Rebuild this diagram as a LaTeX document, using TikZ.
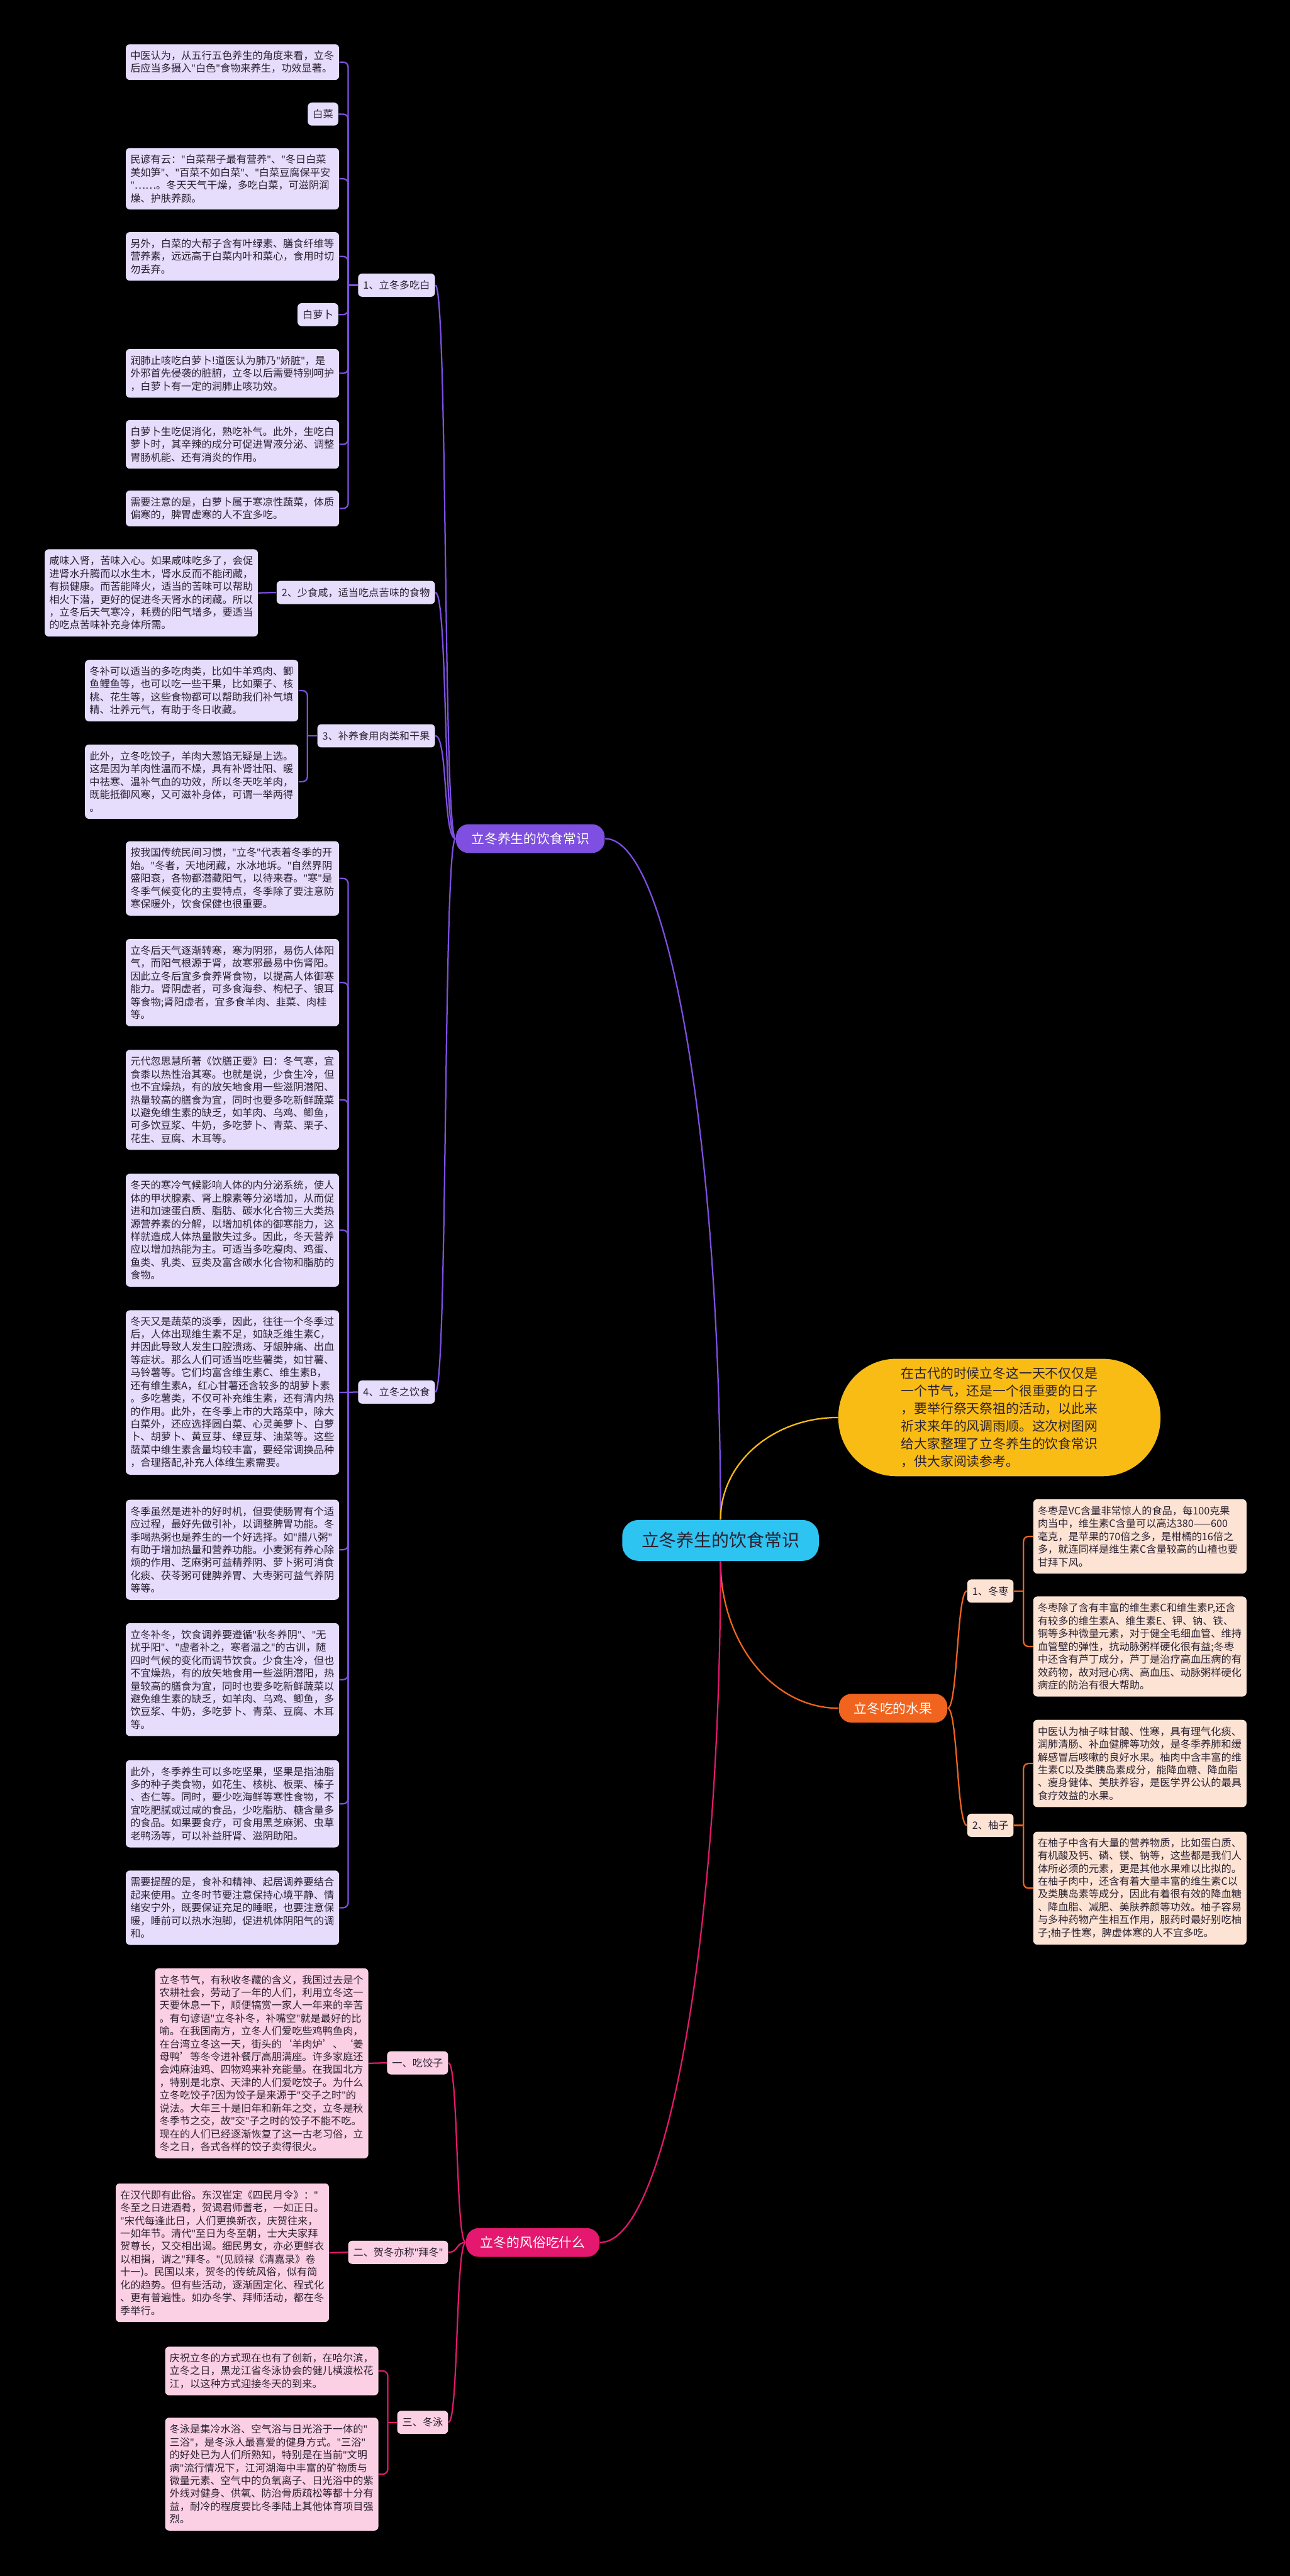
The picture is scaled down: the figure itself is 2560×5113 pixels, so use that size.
\documentclass[tikz,border=0pt]{standalone}
\usepackage{fontspec}
\setmainfont{Noto Sans CJK SC}
\newfontfamily\latinfont{Noto Sans}
\definecolor{pcol}{HTML}{7E4FE0}
\definecolor{plite}{HTML}{E6DCFB}
\definecolor{kcol}{HTML}{E3186E}
\definecolor{klite}{HTML}{FCD0E4}
\definecolor{ocol}{HTML}{F0641F}
\definecolor{olite}{HTML}{FDE3D4}
\definecolor{ycol}{HTML}{F9BC14}
\definecolor{ccol}{HTML}{2EC4F2}
\definecolor{ink}{HTML}{2A2132}
\newcommand\leaffont{\fontsize{5.75pt}{7.25pt}\selectfont}
\newcommand\branchfont{\fontsize{7.4pt}{9pt}\selectfont}
\newcommand\introfont{\fontsize{7.4pt}{9.96pt}\selectfont}
\newcommand\rootfont{\fontsize{9.9pt}{12pt}\selectfont}
\newcommand\q{{\latinfont\char34}}

\begin{document}
\begin{tikzpicture}[x=0.01cm, y=-0.01cm,
  leaf/.style={rectangle, rounded corners=0.08cm, fill=#1, text=ink, font=\leaffont, text width=4.05cm, align=left, inner xsep=0.09cm, inner ysep=0.02cm},
  nl/.style={minimum height=0.255cm*#1+0.2cm},
  tag/.style={rectangle, rounded corners=0.08cm, fill=#1, text=ink, font=\leaffont, inner xsep=0.1cm, minimum height=0.46cm},
  branch/.style={rectangle, rounded corners=0.25cm, fill=#1, text=white, font=\branchfont, minimum height=0.57cm},
  link/.style={draw=#1, line width=0.8pt}
]
  \fill[black] (0,0) rectangle (2560,5113);

  % centre and first level
  \node[rectangle, rounded corners=0.32cm, fill=ccol, text=ink, font=\rootfont, minimum width=3.9cm, minimum height=0.81cm] (root) at (1430,3057.5) {立冬养生的饮食常识};
  \node[rectangle, rounded corners=1.15cm, fill=ycol, text=ink, font=\introfont, align=left, minimum width=6.39cm, minimum height=2.33cm] (intro) at (1983.5,2813.5) {在古代的时候立冬这一天不仅仅是\\一个节气，还是一个很重要的日子\\，要举行祭天祭祖的活动，以此来\\祈求来年的风调雨顺。这次树图网\\给大家整理了立冬养生的饮食常识\\，供大家阅读参考。};
  \node[branch=pcol, minimum width=2.95cm] (diet) at (1052.5,1664.5) {立冬养生的饮食常识};
  \node[branch=ocol, minimum width=2.15cm] (fruit) at (1772.5,3390.5) {立冬吃的水果};
  \node[branch=kcol, minimum width=2.65cm] (cust) at (1057.5,4451) {立冬的风俗吃什么};

  % diet: second level
  \node[tag=plite, anchor=east] (p1) at (864,566) {1、立冬多吃白};
  \node[tag=plite, anchor=east] (p2) at (864,1176) {2、少食咸，适当吃点苦味的食物};
  \node[tag=plite, anchor=east] (p3) at (864,1460.5) {3、补养食用肉类和干果};
  \node[tag=plite, anchor=east] (p4) at (864,2763) {4、立冬之饮食};

  % 1
  \node[leaf=plite, nl=2, anchor=north west] (l1a) at (249,87) {中医认为，从五行五色养生的角度来看，立冬\\后应当多摄入\q{}白色\q{}食物来养生，功效显著。};
  \node[tag=plite, minimum height=0.455cm, anchor=north east] (l1b) at (672,203) {白菜};
  \node[leaf=plite, nl=4, anchor=north west] (l1c) at (249,293) {民谚有云：\q{}白菜帮子最有营养\q{}、\q{}冬日白菜\\美如笋\q{}、\q{}百菜不如白菜\q{}、\q{}白菜豆腐保平安\\\q{}……。冬天天气干燥，多吃白菜，可滋阴润\\燥、护肤养颜。};
  \node[leaf=plite, nl=3, anchor=north west] (l1d) at (249,460) {另外，白菜的大帮子含有叶绿素、膳食纤维等\\营养素，远远高于白菜内叶和菜心，食用时切\\勿丢弃。};
  \node[tag=plite, minimum height=0.455cm, anchor=north east] (l1e) at (672,601) {白萝卜};
  \node[leaf=plite, nl=3, anchor=north west] (l1f) at (249,692) {润肺止咳吃白萝卜!道医认为肺乃\q{}娇脏\q{}，是\\外邪首先侵袭的脏腑，立冬以后需要特别呵护\\，白萝卜有一定的润肺止咳功效。};
  \node[leaf=plite, nl=3, anchor=north west] (l1g) at (249,833) {白萝卜生吃促消化，熟吃补气。此外，生吃白\\萝卜时，其辛辣的成分可促进胃液分泌、调整\\胃肠机能、还有消炎的作用。};
  \node[leaf=plite, nl=2, anchor=north west] (l1h) at (249,973) {需要注意的是，白萝卜属于寒凉性蔬菜，体质\\偏寒的，脾胃虚寒的人不宜多吃。};

  % 2
  \node[leaf=plite, nl=6, anchor=north west] (l2a) at (88,1089.5) {咸味入肾，苦味入心。如果咸味吃多了，会促\\进肾水升腾而以水生木，肾水反而不能闭藏，\\有损健康。而苦能降火，适当的苦味可以帮助\\相火下潜，更好的促进冬天肾水的闭藏。所以\\，立冬后天气寒冷，耗费的阳气增多，要适当\\的吃点苦味补充身体所需。};

  % 3
  \node[leaf=plite, nl=4, anchor=north west] (l3a) at (168,1309) {冬补可以适当的多吃肉类，比如牛羊鸡肉、鲫\\鱼鲤鱼等，也可以吃一些干果，比如栗子、核\\桃、花生等，这些食物都可以帮助我们补气填\\精、壮养元气，有助于冬日收藏。};
  \node[leaf=plite, nl=5, anchor=north west] (l3b) at (168,1477) {此外，立冬吃饺子，羊肉大葱馅无疑是上选。\\这是因为羊肉性温而不燥，具有补肾壮阳、暖\\中祛寒、温补气血的功效，所以冬天吃羊肉，\\既能抵御风寒，又可滋补身体，可谓一举两得\\。};

  % 4
  \node[leaf=plite, nl=5, anchor=north west] (g4a) at (249,1669) {按我国传统民间习惯，\q{}立冬\q{}代表着冬季的开\\始。\q{}冬者，天地闭藏，水冰地坼。\q{}自然界阴\\盛阳衰，各物都潜藏阳气，以待来春。\q{}寒\q{}是\\冬季气候变化的主要特点，冬季除了要注意防\\寒保暖外，饮食保健也很重要。};
  \node[leaf=plite, nl=6, anchor=north west] (g4b) at (249,1863) {立冬后天气逐渐转寒，寒为阴邪，易伤人体阳\\气，而阳气根源于肾，故寒邪最易中伤肾阳。\\因此立冬后宜多食养肾食物，以提高人体御寒\\能力。肾阴虚者，可多食海参、枸杞子、银耳\\等食物;肾阳虚者，宜多食羊肉、韭菜、肉桂\\等。};
  \node[leaf=plite, nl=7, anchor=north west] (g4c) at (249,2083) {元代忽思慧所著《饮膳正要》曰：冬气寒，宜\\食黍以热性治其寒。也就是说，少食生冷，但\\也不宜燥热，有的放矢地食用一些滋阴潜阳、\\热量较高的膳食为宜，同时也要多吃新鲜蔬菜\\以避免维生素的缺乏，如羊肉、乌鸡、鲫鱼，\\可多饮豆浆、牛奶，多吃萝卜、青菜、栗子、\\花生、豆腐、木耳等。};
  \node[leaf=plite, nl=8, anchor=north west] (g4d) at (249,2329) {冬天的寒冷气候影响人体的内分泌系统，使人\\体的甲状腺素、肾上腺素等分泌增加，从而促\\进和加速蛋白质、脂肪、碳水化合物三大类热\\源营养素的分解，以增加机体的御寒能力，这\\样就造成人体热量散失过多。因此，冬天营养\\应以增加热能为主。可适当多吃瘦肉、鸡蛋、\\鱼类、乳类、豆类及富含碳水化合物和脂肪的\\食物。};
  \node[leaf=plite, nl=12, anchor=north west] (g4e) at (249,2600) {冬天又是蔬菜的淡季，因此，往往一个冬季过\\后，人体出现维生素不足，如缺乏维生素C，\\并因此导致人发生口腔溃疡、牙龈肿痛、出血\\等症状。那么人们可适当吃些薯类，如甘薯、\\马铃薯等。它们均富含维生素C、维生素B，\\还有维生素A，红心甘薯还含较多的胡萝卜素\\。多吃薯类，不仅可补充维生素，还有清内热\\的作用。此外，在冬季上市的大路菜中，除大\\白菜外，还应选择圆白菜、心灵美萝卜、白萝\\卜、胡萝卜、黄豆芽、绿豆芽、油菜等。这些\\蔬菜中维生素含量均较丰富，要经常调换品种\\，合理搭配,补充人体维生素需要。};
  \node[leaf=plite, nl=7, anchor=north west] (g4f) at (249,2976) {冬季虽然是进补的好时机，但要使肠胃有个适\\应过程，最好先做引补，以调整脾胃功能。冬\\季喝热粥也是养生的一个好选择。如\q{}腊八粥\q{}\\有助于增加热量和营养功能。小麦粥有养心除\\烦的作用、芝麻粥可益精养阴、萝卜粥可消食\\化痰、茯苓粥可健脾养胃、大枣粥可益气养阴\\等等。};
  \node[leaf=plite, nl=8, anchor=north west] (g4g) at (249,3221) {立冬补冬，饮食调养要遵循\q{}秋冬养阴\q{}、\q{}无\\扰乎阳\q{}、\q{}虚者补之，寒者温之\q{}的古训，随\\四时气候的变化而调节饮食。少食生冷，但也\\不宜燥热，有的放矢地食用一些滋阴潜阳，热\\量较高的膳食为宜，同时也要多吃新鲜蔬菜以\\避免维生素的缺乏，如羊肉、乌鸡、鲫鱼，多\\饮豆浆、牛奶，多吃萝卜、青菜、豆腐、木耳\\等。};
  \node[leaf=plite, nl=6, anchor=north west] (g4h) at (249,3493) {此外，冬季养生可以多吃坚果，坚果是指油脂\\多的种子类食物，如花生、核桃、板栗、榛子\\、杏仁等。同时，要少吃海鲜等寒性食物，不\\宜吃肥腻或过咸的食品，少吃脂肪、糖含量多\\的食品。如果要食疗，可食用黑芝麻粥、虫草\\老鸭汤等，可以补益肝肾、滋阴助阳。};
  \node[leaf=plite, nl=5, anchor=north west] (g4i) at (249,3712) {需要提醒的是，食补和精神、起居调养要结合\\起来使用。立冬时节要注意保持心境平静、情\\绪安宁外，既要保证充足的睡眠，也要注意保\\暖，睡前可以热水泡脚，促进机体阴阳气的调\\和。};

  % fruit
  \node[tag=olite, anchor=west] (o1) at (1919,3158) {1、冬枣};
  \node[tag=olite, anchor=west] (o2) at (1919,3623) {2、柚子};
  \node[leaf=olite, nl=5, anchor=north west] (dz1) at (2050,2975) {冬枣是VC含量非常惊人的食品，每100克果\\肉当中，维生素C含量可以高达380——600\\毫克，是苹果的70倍之多，是柑橘的16倍之\\多，就连同样是维生素C含量较高的山楂也要\\甘拜下风。};
  \node[leaf=olite, nl=7, anchor=north west] (dz2) at (2050,3168) {冬枣除了含有丰富的维生素C和维生素P,还含\\有较多的维生素A、维生素E、钾、钠、铁、\\铜等多种微量元素，对于健全毛细血管、维持\\血管壁的弹性，抗动脉粥样硬化很有益;冬枣\\中还含有芦丁成分，芦丁是治疗高血压病的有\\效药物，故对冠心病、高血压、动脉粥样硬化\\病症的防治有很大帮助。};
  \node[leaf=olite, nl=6, anchor=north west] (yz1) at (2050,3413) {中医认为柚子味甘酸、性寒，具有理气化痰、\\润肺清肠、补血健脾等功效，是冬季养肺和缓\\解感冒后咳嗽的良好水果。柚肉中含丰富的维\\生素C以及类胰岛素成分，能降血糖、降血脂\\、瘦身健体、美肤养容，是医学界公认的最具\\食疗效益的水果。};
  \node[leaf=olite, nl=8, anchor=north west] (yz2) at (2050,3635) {在柚子中含有大量的营养物质，比如蛋白质、\\有机酸及钙、磷、镁、钠等，这些都是我们人\\体所必须的元素，更是其他水果难以比拟的。\\在柚子肉中，还含有着大量丰富的维生素C以\\及类胰岛素等成分，因此有着很有效的降血糖\\、降血脂、减肥、美肤养颜等功效。柚子容易\\与多种药物产生相互作用，服药时最好别吃柚\\子;柚子性寒，脾虚体寒的人不宜多吃。};

  % customs
  \node[tag=klite, anchor=east] (k1) at (890,4094.5) {一、吃饺子};
  \node[tag=klite, anchor=east] (k2) at (890,4470.5) {二、贺冬亦称\q{}拜冬\q{}};
  \node[tag=klite, anchor=east] (k3) at (890,4808) {三、冬泳};
  \node[leaf=klite, nl=14, anchor=north west] (jz) at (307,3906) {立冬节气，有秋收冬藏的含义，我国过去是个\\农耕社会，劳动了一年的人们，利用立冬这一\\天要休息一下，顺便犒赏一家人一年来的辛苦\\。有句谚语\q{}立冬补冬，补嘴空\q{}就是最好的比\\喻。在我国南方，立冬人们爱吃些鸡鸭鱼肉，\\在台湾立冬这一天，街头的‘羊肉炉’、‘姜\\母鸭’等冬令进补餐厅高朋满座。许多家庭还\\会炖麻油鸡、四物鸡来补充能量。在我国北方\\，特别是北京、天津的人们爱吃饺子。为什么\\立冬吃饺子?因为饺子是来源于\q{}交子之时\q{}的\\说法。大年三十是旧年和新年之交，立冬是秋\\冬季节之交，故\q{}交\q{}子之时的饺子不能不吃。\\现在的人们已经逐渐恢复了这一古老习俗，立\\冬之日，各式各样的饺子卖得很火。};
  \node[leaf=klite, nl=10, anchor=north west] (hd) at (229,4333) {在汉代即有此俗。东汉崔定《四民月令》：\q{}\\冬至之日进酒肴，贺谒君师耆老，一如正日。\\\q{}宋代每逢此日，人们更换新衣，庆贺往来，\\一如年节。清代\q{}至日为冬至朝，士大夫家拜\\贺尊长，又交相出谒。细民男女，亦必更鲜衣\\以相揖，谓之\q{}拜冬。\q{}(见顾禄《清嘉录》卷\\十一)。民国以来，贺冬的传统风俗，似有简\\化的趋势。但有些活动，逐渐固定化、程式化\\、更有普遍性。如办冬学、拜师活动，都在冬\\季举行。};
  \node[leaf=klite, nl=3, anchor=north west] (dy1) at (327,4657) {庆祝立冬的方式现在也有了创新，在哈尔滨，\\立冬之日，黑龙江省冬泳协会的健儿横渡松花\\江，以这种方式迎接冬天的到来。};
  \node[leaf=klite, nl=8, anchor=north west] (dy2) at (327,4798) {冬泳是集冷水浴、空气浴与日光浴于一体的\q{}\\三浴\q{}，是冬泳人最喜爱的健身方式。\q{}三浴\q{}\\的好处已为人们所熟知，特别是在当前\q{}文明\\病\q{}流行情况下，江河湖海中丰富的矿物质与\\微量元素、空气中的负氧离子、日光浴中的紫\\外线对健身、供氧、防治骨质疏松等都十分有\\益，耐冷的程度要比冬季陆上其他体育项目强\\烈。};

  % connectors
  \draw[link=pcol] (root.north) .. controls +(0,-746) and +(127,0) .. (diet.east);
  \draw[link=ycol] (root.north) .. controls +(0,-113) and +(-129,0) .. (intro.west);
  \draw[link=ocol] (root.south) .. controls +(0,162) and +(-130,0) .. (fruit.west);
  \draw[link=kcol] (root.south) .. controls +(0,746) and +(132,0) .. (cust.east);

  \foreach \n in {p1,p2,p3,p4}
    \draw[link=pcol] (\n.east) .. controls +(25,0) and +(-25,0) .. (diet.west);
  \foreach \n in {o1,o2}
    \draw[link=ocol] (fruit.east) .. controls +(20,0) and +(-20,0) .. (\n.west);
  \foreach \n in {k1,k2,k3}
    \draw[link=kcol] (\n.east) .. controls +(20,0) and +(-20,0) .. (cust.west);

  \coordinate (t1) at ([xshift=-0.19cm]p1.west);
  \coordinate (t3) at ([xshift=-0.19cm]p3.west);
  \coordinate (t4) at ([xshift=-0.19cm]p4.west);
  \coordinate (tk) at ([xshift=-0.18cm]k3.west);
  \coordinate (to1) at ([xshift=0.19cm]o1.east);
  \coordinate (to2) at ([xshift=0.19cm]o2.east);

  \foreach \n in {l1a,l1b,l1c,l1d,l1e,l1f,l1g,l1h}
    \draw[link=pcol, rounded corners=0.1cm] (\n.east) -| (t1);
  \draw[link=pcol] (t1) -- (p1.west);
  \draw[link=pcol] (l2a.east) -- (p2.west);
  \foreach \n in {l3a,l3b}
    \draw[link=pcol, rounded corners=0.1cm] (\n.east) -| (t3);
  \draw[link=pcol] (t3) -- (p3.west);
  \foreach \n in {g4a,g4b,g4c,g4d,g4f,g4g,g4h,g4i}
    \draw[link=pcol, rounded corners=0.1cm] (\n.east) -| (t4);
  \draw[link=pcol] (g4e.east) -- (p4.west);

  \foreach \n in {dz1,dz2}
    \draw[link=ocol, rounded corners=0.1cm] (\n.west) -| (to1);
  \draw[link=ocol] (to1) -- (o1.east);
  \foreach \n in {yz1,yz2}
    \draw[link=ocol, rounded corners=0.1cm] (\n.west) -| (to2);
  \draw[link=ocol] (to2) -- (o2.east);

  \draw[link=kcol] (jz.east) -- (k1.west);
  \draw[link=kcol] (hd.east) -- (k2.west);
  \foreach \n in {dy1,dy2}
    \draw[link=kcol, rounded corners=0.1cm] (\n.east) -| (tk);
  \draw[link=kcol] (tk) -- (k3.west);
\end{tikzpicture}
\end{document}
